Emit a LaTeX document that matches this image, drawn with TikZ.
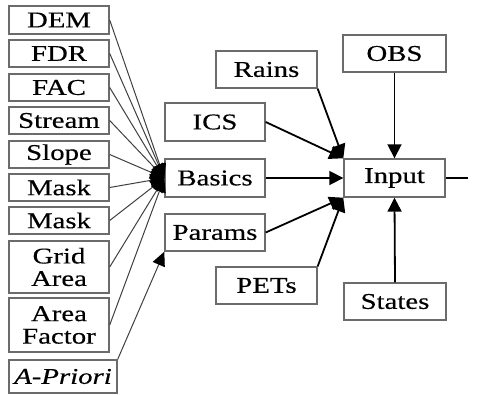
\documentclass[tikz,border=0pt]{standalone}
\usepackage{fontspec}
\setmainfont{Liberation Serif}[FakeStretch=1.28,FakeBold=0.4]
\usetikzlibrary{arrows.meta}
\tikzset{
  box/.style={draw=black!58, line width=1.4pt, rectangle, inner sep=0pt,
    align=center, font=\fontsize{22.5}{22.5}\selectfont, text=black},
  feed/.style={draw=black!75, line width=1pt,
    -{Triangle[length=14pt,width=13pt,color=black]}},
  link/.style={draw=black, line width=1.8pt, -{Triangle[length=14pt,width=14pt]}}
}
\begin{document}
\begin{tikzpicture}[x=1pt,y=-1pt]
\useasboundingbox (0,0) rectangle (477,394);
% raw data layers
\node[box, minimum width=100, minimum height=28] (dem)    at (59,20)    {DEM};
\node[box, minimum width=100, minimum height=27] (fdr)    at (59,53.5)  {FDR};
\node[box, minimum width=100, minimum height=27] (fac)    at (59,87.5)  {FAC};
\node[box, minimum width=100, minimum height=27] (stream) at (59,120.5) {Stream};
\node[box, minimum width=100, minimum height=27] (slope)  at (59,154.5) {Slope};
\node[box, minimum width=100, minimum height=27] (maska)  at (59,187.5) {Mask};
\node[box, minimum width=100, minimum height=27] (maskb)  at (59,220.5) {Mask};
\node[box, minimum width=100, minimum height=52] (grid)   at (59,267)   {Grid\\Area};
\node[box, minimum width=100, minimum height=54] (areaf)  at (59,325)   {Area\\Factor};
\node[box, minimum width=108, minimum height=33] (apri)   at (63,376.5) {\itshape A-Priori};
% intermediate products
\node[box, minimum width=100, minimum height=38] (ics)    at (215,122)   {ICS};
\node[box, minimum width=100, minimum height=38] (basics) at (215,178)   {Basics};
\node[box, minimum width=100, minimum height=37] (params) at (215,232.5) {Params};
\node[box, minimum width=101, minimum height=37] (rains)  at (266.5,69.5)  {Rains};
\node[box, minimum width=101, minimum height=37] (pets)   at (266.5,285.5) {PETs};
\node[box, minimum width=103, minimum height=37] (obs)    at (394.5,53.5)  {OBS};
\node[box, minimum width=101, minimum height=38] (input)  at (394.5,178)   {Input};
\node[box, minimum width=102, minimum height=37] (states) at (395,301.5)   {States};
\coordinate (out) at (468,178);
% fan-in to Basics
\foreach \n in {dem,fdr,fac,stream,slope,maska,maskb,grid,areaf}
  \draw[feed] (\n.east) -- (basics.west);
\draw[feed] (apri.north east) -- (params.south west);
% inputs to the model
\draw[link] (ics.east) -- (input.north west);
\draw[link] (rains.south east) -- (input.north west);
\draw[link] (basics.east) -- (input.west);
\draw[link] (obs.south) -- (input.north);
\draw[link] (params.east) -- (input.south west);
\draw[link] (pets.north east) -- (input.south west);
\draw[link] (states.north) -- (input.south);
\draw[draw=black, line width=1.8pt] (input.east) -- (out);
\end{tikzpicture}
\end{document}
